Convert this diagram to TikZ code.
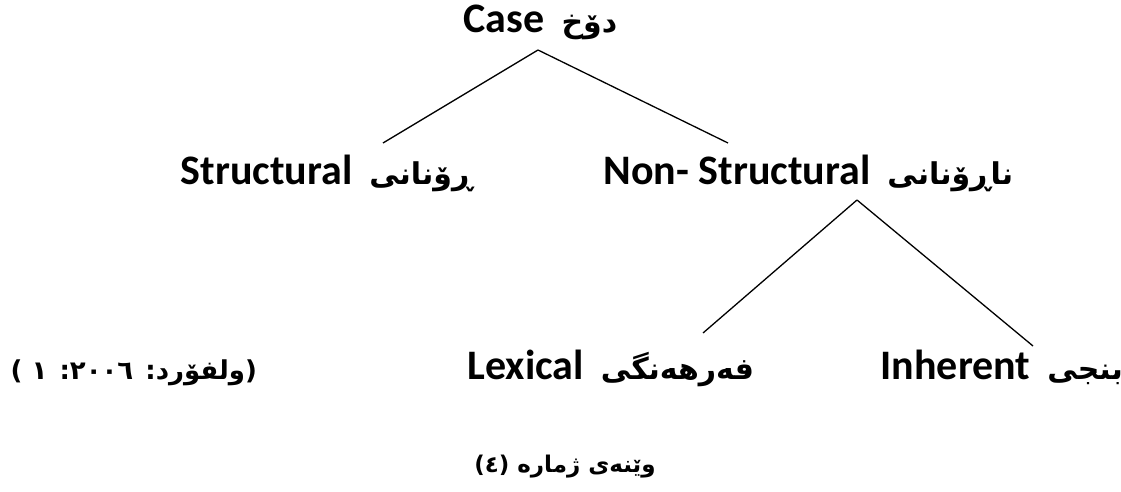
\documentclass[tikz,border=0pt]{standalone}
\usepackage{fontspec}
\setmainfont{Carlito}
\newfontfamily\arabicfont[Script=Arabic]{DejaVu Sans}
\TeXXeTstate=1
\usetikzlibrary{calc}
\usetikzlibrary{positioning}

\newcommand{\kur}[1]{\hspace{17pt}{\fontsize{30}{36}\selectfont\arabicfont\beginR #1\endR}}

\begin{document}
\begin{tikzpicture}[x=1pt, y=-1pt, line width=1.3pt,
    lbl/.style={font=\fontsize{42}{50}\selectfont\bfseries, inner sep=0pt, anchor=base west},
    refr/.style={font=\fontsize{26}{30}\selectfont\bfseries, inner sep=0pt, anchor=base west},
    capt/.style={font=\fontsize{23}{28}\selectfont\bfseries, inner sep=0pt, anchor=base},
  ]
\useasboundingbox (0,0) rectangle (1121,492);
% Top
\node(case)[lbl] at (463,33) {Case\kur{دۆخ}};
% Middle row
\node(str) [lbl] at (180,184) {Structural\kur{ڕۆنانی}};
\node(nstr)[lbl] at (603,184) {Non- Structural\kur{ناڕۆنانی}};
% Bottom row
\node(lex)[lbl] at (467,379) {Lexical\kur{فەرهەنگی}};
\node(inh)[lbl] at (880,379) {Inherent\kur{بنجی}};
\node(cit)[refr] at (10,379) {\arabicfont\beginR (ولفۆرد: ٢٠٠٦: ١ )\endR};
% Caption
\node(fig)[capt] at (565,472) {\arabicfont\beginR وێنەی ژمارە (٤)\endR};

\draw ($(case.base west)+(75,17)$) -- ($(str.base west)+(203,-41)$);
\draw ($(case.base west)+(75,17)$) -- ($(nstr.base west)+(125,-41)$);
\draw ($(nstr.base west)+(254,16)$) -- ($(lex.base west)+(236,-46)$);
\draw ($(nstr.base west)+(254,16)$) -- ($(inh.base west)+(153,-33)$);
\end{tikzpicture}
\end{document}
